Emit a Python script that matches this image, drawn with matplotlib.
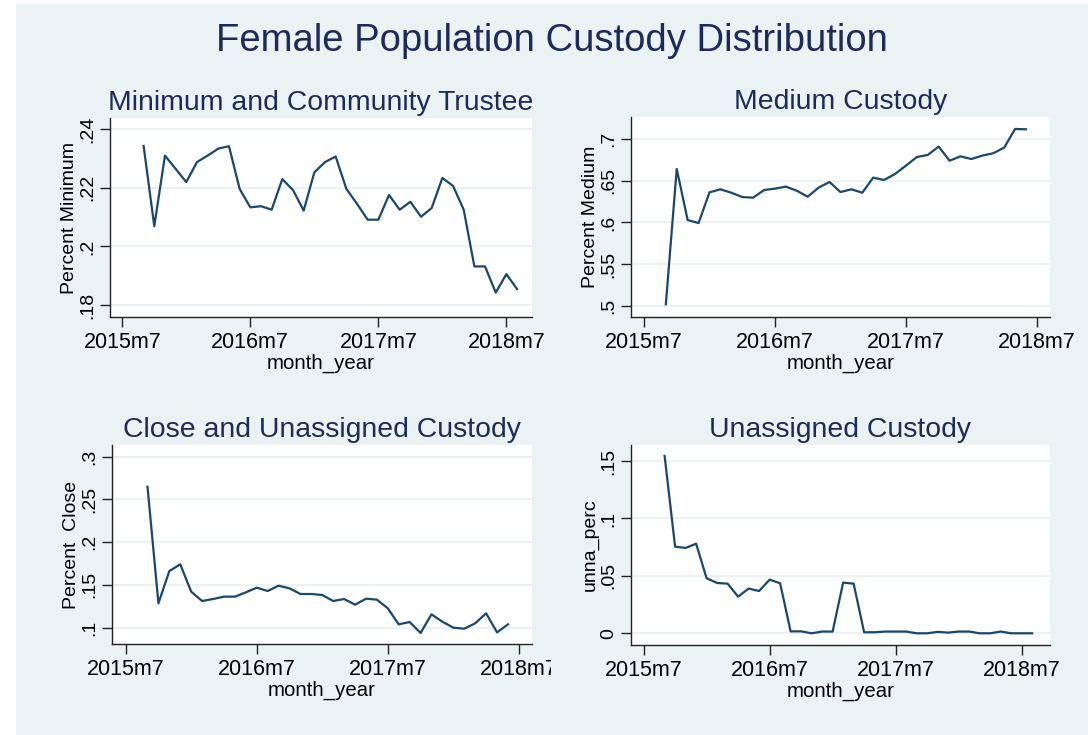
import numpy as np
import matplotlib
matplotlib.use("Agg")
import matplotlib.pyplot as plt
from matplotlib.patches import Rectangle
from matplotlib.transforms import Bbox, TransformedBbox

plt.rcParams['font.family'] = ['Liberation Sans', 'DejaVu Sans']

# monthly series, first value is 2015m9
minimum = [.2342, .2069, .2309, .2264, .2219, .2287, .2309, .2333, .2341, .2196,
           .2133, .2137, .2125, .2229, .2192, .2122, .2252, .2287, .2306, .2196,
           .2145, .2091, .2091, .2175, .2125, .2152, .2101, .2131, .2233, .2206,
           .2125, .1932, .1932, .1843, .1906, .1855]
medium = [.5016, .6643, .6030, .5993, .6362, .6399, .6358, .6306, .6298, .6390,
          .6407, .6431, .6382, .6310, .6419, .6487, .6366, .6399, .6358, .6539,
          .6511, .6583, .6683, .6787, .6812, .6912, .6743, .6795, .6763, .6804,
          .6832, .6900, .7124, .7120]
close = [.2649, .1285, .1663, .1741, .1421, .1312, .1335, .1363, .1363, .1413,
         .1468, .1429, .1491, .1460, .1394, .1394, .1382, .1312, .1335, .1269,
         .1339, .1328, .1226, .1039, .1066, .0938, .1156, .1070, .1000, .0988,
         .1051, .1168, .0945, .1039]
unassigned = [.1544, .0754, .0743, .0780, .0479, .0438, .0432, .0319, .0389, .0368,
              .0467, .0435, .0017, .0017, .0000, .0015, .0015, .0441, .0432, .0009,
              .0009, .0015, .0015, .0015, .0000, .0000, .0012, .0006, .0015, .0015,
              .0000, .0000, .0015, .0000, .0000, .0000]

first_month = 2  # 2015m9, counted from 2015m7
xtick_pos = [0, 12, 24, 36]
xtick_labels = ['2015m7', '2016m7', '2017m7', '2018m7']

panels = [
    # title, series, ylabel, yticks, yticklabels, box (px: x0, y0, x1, y1), ylim, xlim
    ("Minimum and Community Trustee", minimum, "Percent Minimum",
     [.18, .2, .22, .24], ['.18', '.2', '.22', '.24'],
     (110, 118, 532, 317), (.176, .2437), (-1.15, 38.4)),
    ("Medium Custody", medium, "Percent Medium",
     [.5, .55, .6, .65, .7], ['.5', '.55', '.6', '.65', '.7'],
     (631, 117, 1050, 317), (.4864, .7268), (-1.19, 37.2)),
    ("Close and Unassigned Custody", close, "Percent  Close",
     [.1, .15, .2, .25, .3], ['.1', '.15', '.2', '.25', '.3'],
     (112, 445, 532, 644), (.0809, .3137), (-1.25, 37.2)),
    ("Unassigned Custody", unassigned, "unna_perc",
     [0, .05, .1, .15], ['0', '.05', '.1', '.15'],
     (631, 445, 1050, 645), (-.0102, .1639), (-1.2, 38.7)),
]

W, H = 1088, 735
bg = '#EAF2F3'
navy = '#1A476F'
title_col = '#1C2B5A'

fig = plt.figure(figsize=(W / 100, H / 100), dpi=100)
fig.patch.set_facecolor('white')
fig.add_artist(Rectangle((16 / W, 0), 1 - 16 / W, 1 - 4 / H, transform=fig.transFigure,
                         facecolor=bg, edgecolor='none', zorder=-10))

fig.text(552 / W, 1 - 41 / H, "Female Population Custody Distribution",
         ha='center', va='center', fontsize=27.5, color=title_col)

axes = []
for title, vals, ylab, yt, ytl, box, ylim, xlim in panels:
    x0, y0, x1, y1 = box
    ax = fig.add_axes([x0 / W, 1 - y1 / H, (x1 - x0) / W, (y1 - y0) / H])
    ax.set_facecolor('white')
    x = np.arange(len(vals)) + first_month
    ax.plot(x, vals, color=navy, linewidth=1.6)
    ax.set_ylim(*ylim)
    ax.set_xlim(*xlim)
    ax.set_yticks(yt)
    ax.set_yticklabels(ytl, rotation=90, va='center')
    ax.set_xticks(xtick_pos)
    ax.set_xticklabels(xtick_labels)
    ax.yaxis.grid(True, color=bg, linewidth=1.5)
    ax.set_axisbelow(True)
    for s in ['top', 'right']:
        ax.spines[s].set_visible(False)
    for s in ['left', 'bottom']:
        ax.spines[s].set_color('#222222')
        ax.spines[s].set_linewidth(1.0)
    ax.tick_params(axis='both', length=7, width=1, color='#222222')
    ax.tick_params(axis='y', labelsize=14, pad=3)
    ax.tick_params(axis='x', labelsize=15.5, pad=4)
    ax.set_ylabel(ylab, fontsize=14, labelpad=1)
    ax.set_xlabel("month_year", fontsize=14.7, labelpad=0)
    ax.set_title(title, fontsize=20.4, color=title_col, pad=6)
    axes.append(ax)

# the lower left panel is cut at its right edge in the original
clip = TransformedBbox(Bbox([[0, 0], [551 / W, 1]]), fig.transFigure)
for lab in axes[2].get_xticklabels():
    lab.set_clip_box(clip)
    lab.set_clip_on(True)

fig.savefig("out.png", dpi=100)
